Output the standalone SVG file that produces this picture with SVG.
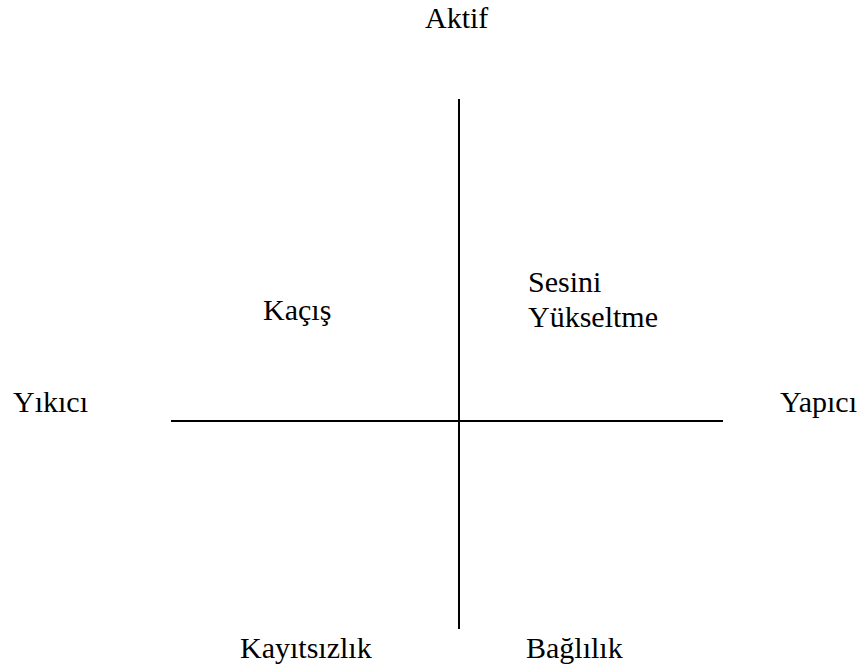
<svg xmlns="http://www.w3.org/2000/svg" width="863" height="672" viewBox="0 0 863 672">
<style>
.t{font-size:30px;fill:#000}
.ax{stroke:#000;stroke-width:2;fill:none}
</style>
<rect width="863" height="672" fill="#fff"/>
<g id="connectors">
<line class="ax" x1="459" y1="99" x2="459" y2="629"/>
<line class="ax" x1="171" y1="421" x2="723" y2="421"/>
</g>
<g font-family="Liberation Serif, Times New Roman, serif">
<g id="aktif"><text class="t" x="425" y="28">Aktif</text></g>
<g id="yikici"><text class="t" x="13" y="412">Yıkıcı</text></g>
<g id="yapici"><text class="t" x="780" y="412">Yapıcı</text></g>
<g id="kacis"><text class="t" x="263" y="320">Kaçış</text></g>
<g id="sesini"><text class="t" x="528" y="292">Sesini</text><text class="t" x="528" y="327">Yükseltme</text></g>
<g id="kayitsizlik"><text class="t" x="240" y="658">Kayıtsızlık</text></g>
<g id="baglilik"><text class="t" x="526" y="658">Bağlılık</text></g>
</g>
</svg>
